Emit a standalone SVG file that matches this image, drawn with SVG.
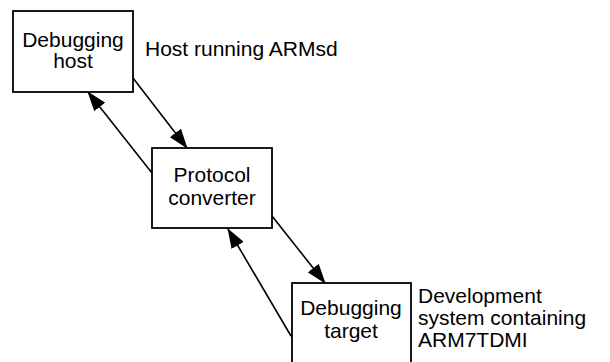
<svg xmlns="http://www.w3.org/2000/svg" width="610" height="362" viewBox="0 0 610 362">
<defs>
<marker id="ah" markerWidth="20" markerHeight="14" refX="19" refY="7" orient="auto" markerUnits="userSpaceOnUse">
<path d="M0,0 L20,7 L0,14 Z" fill="#000"/>
</marker>
<style>
.box{fill:#fff;stroke:#000;stroke-width:1.8}
.t{font-family:"Liberation Sans",Arial,sans-serif;font-size:21px;fill:#000}
.c{text-anchor:middle}
.ln{stroke:#000;stroke-width:1.6;fill:none}
</style>
</defs>
<rect width="610" height="362" fill="#fff"/>
<g id="connectors">
<line class="ln" x1="133" y1="78" x2="187" y2="148" marker-end="url(#ah)"/>
<line class="ln" x1="152" y1="173" x2="88" y2="92" marker-end="url(#ah)"/>
<line class="ln" x1="272" y1="216" x2="325" y2="283" marker-end="url(#ah)"/>
<line class="ln" x1="291" y1="336" x2="228" y2="229" marker-end="url(#ah)"/>
</g>
<g id="debugging-host">
<rect class="box" x="13" y="11" width="120" height="81"/>
<text class="t c" x="73" y="47">Debugging</text>
<text class="t c" x="73" y="68">host</text>
</g>
<g id="host-label">
<text class="t" x="145" y="56">Host running ARMsd</text>
</g>
<g id="protocol-converter">
<rect class="box" x="152" y="148" width="120" height="80"/>
<text class="t c" x="212" y="182">Protocol</text>
<text class="t c" x="212" y="205">converter</text>
</g>
<g id="debugging-target">
<rect class="box" x="292" y="283" width="119" height="85"/>
<text class="t c" x="351" y="315">Debugging</text>
<text class="t c" x="351" y="338">target</text>
</g>
<g id="target-label">
<text class="t" x="418" y="303">Development</text>
<text class="t" x="418" y="325">system containing</text>
<text class="t" x="418" y="347">ARM7TDMI</text>
</g>
</svg>
